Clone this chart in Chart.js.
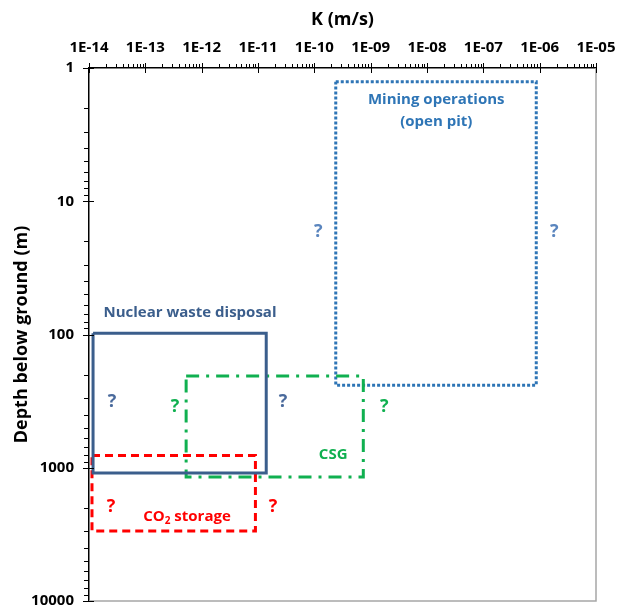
<!DOCTYPE html>
<html>
<head>
<meta charset="utf-8">
<script src="https://cdn.jsdelivr.net/npm/chart.js@4.4.0/dist/chart.umd.min.js"></script>
<style>
  html, body { margin: 0; padding: 0; background: #fff; }
  #wrap { width: 627px; height: 608px; }
</style>
</head>
<body>
<div id="wrap"><canvas id="kChart"></canvas></div>
<script>
// axis ticks
const xTickValues = [1e-14, 1e-13, 1e-12, 1e-11, 1e-10, 1e-9, 1e-8, 1e-7, 1e-6, 1e-5];
const xTickLabels = ['1E-14', '1E-13', '1E-12', '1E-11', '1E-10', '1E-09', '1E-08', '1E-07', '1E-06', '1E-05'];
const yTickValues = [1, 10, 100, 1000, 10000];
const yTickLabels = ['1', '10', '100', '1000', '10000'];

// regions: K range (m/s) and depth range (m)
const regionNames = ['Nuclear waste disposal', 'CO₂ storage', 'CSG', 'Mining operations (open pit)'];
const kMin = [1.18e-14, 1.13e-14, 5.3e-13, 2.4e-10];
const kMax = [1.4e-11, 9e-12, 7.4e-10, 8.7e-7];
const depthTop = [98, 810, 205, 1.27];
const depthBottom = [1095, 2980, 1175, 240];
const regionColors = ['#3b5e8c', '#ff0000', '#10b050', '#2e75b6'];
const regionDash = [[], [8, 5], [13, 7, 3, 7], [3, 2]];

// text annotations (value positions)
const labelText = ['Nuclear waste disposal', 'Mining operations', '(open pit)', 'CSG', 'CO₂ storage'];
const labelK = [6.2e-13, 1.46e-8, 1.46e-8, 2.16e-10, 5.5e-13];
const labelDepth = [69, 1.74, 2.54, 802, 2340];
const labelColors = ['#3b5e8c', '#2e75b6', '#2e75b6', '#10b050', '#ff0000'];

// question marks
const qK = [2.56e-14, 2.79e-11, 3.37e-13, 1.74e-9, 2.46e-14, 1.85e-11, 1.17e-10, 1.82e-6];
const qDepth = [321, 321, 350, 350, 1970, 1970, 17, 17];
const qColors = ['#4a6a9c', '#4a6a9c', '#10b050', '#10b050', '#ff0000', '#ff0000', '#5a85be', '#5a85be'];

const FONT = "'Open Sans', 'DejaVu Sans', sans-serif";

const datasets = regionNames.map((name, i) => ({
    label: name,
    data: [
        { x: kMin[i], y: depthTop[i] },
        { x: kMax[i], y: depthTop[i] },
        { x: kMax[i], y: depthBottom[i] },
        { x: kMin[i], y: depthBottom[i] },
        { x: kMin[i], y: depthTop[i] }
    ],
    showLine: true,
    borderColor: regionColors[i],
    borderWidth: 3,
    borderDash: regionDash[i],
    borderJoinStyle: 'miter',
    pointRadius: 0,
    fill: false,
    tension: 0
}));

// draws text, turning "₂" into a real lowered subscript
function drawLabel(ctx, text, x, y, size) {
    const parts = text.split('₂');
    ctx.font = 'bold ' + size + 'px ' + FONT;
    if (parts.length === 1) {
        ctx.textAlign = 'center';
        ctx.fillText(text, x, y);
        return;
    }
    const sub = Math.round(size * 0.65);
    const w1 = ctx.measureText(parts[0]).width;
    const w3 = ctx.measureText(parts[1]).width;
    ctx.font = 'bold ' + sub + 'px ' + FONT;
    const w2 = ctx.measureText('2').width;
    let cx = x - (w1 + w2 + w3) / 2;
    ctx.textAlign = 'left';
    ctx.font = 'bold ' + size + 'px ' + FONT;
    ctx.fillText(parts[0], cx, y);
    cx += w1;
    ctx.font = 'bold ' + sub + 'px ' + FONT;
    ctx.fillText('2', cx, y + size * 0.3);
    cx += w2;
    ctx.font = 'bold ' + size + 'px ' + FONT;
    ctx.fillText(parts[1], cx, y);
}

const axisPlugin = {
    id: 'axisDecor',
    afterDraw(chart) {
        const ctx = chart.ctx;
        const ca = chart.chartArea;
        const xs = chart.scales.x;
        const ys = chart.scales.y;
        const line = (x1, y1, x2, y2) => {
            ctx.beginPath(); ctx.moveTo(x1, y1); ctx.lineTo(x2, y2); ctx.stroke();
        };
        ctx.save();
        // right and bottom frame
        ctx.strokeStyle = '#a6a6a6';
        ctx.lineWidth = 1.5;
        ctx.beginPath();
        ctx.moveTo(ca.right, ca.top);
        ctx.lineTo(ca.right, ca.bottom);
        ctx.lineTo(ca.left, ca.bottom);
        ctx.stroke();

        ctx.strokeStyle = '#000';
        ctx.lineWidth = 1;
        xTickValues.forEach((v, i) => {
            const px = Math.round(xs.getPixelForValue(v)) + 0.5;
            line(px, ca.top - 5, px, ca.top + 5);
            if (i < xTickValues.length - 1) {
                for (let m = 2; m <= 9; m++) {
                    const mx = Math.round(xs.getPixelForValue(v * m)) + 0.5;
                    line(mx, ca.top - 4, mx, ca.top);
                }
            }
        });
        yTickValues.forEach((v, i) => {
            const py = Math.round(ys.getPixelForValue(v)) + 0.5;
            line(ca.left - 6, py, ca.left + 5, py);
            if (i < yTickValues.length - 1) {
                for (let m = 2; m <= 9; m++) {
                    const my = Math.round(ys.getPixelForValue(v * m)) + 0.5;
                    line(ca.left - 5, my, ca.left, my);
                }
            }
        });

        // annotations
        ctx.textBaseline = 'middle';
        labelText.forEach((t, i) => {
            ctx.fillStyle = labelColors[i];
            drawLabel(ctx, t, xs.getPixelForValue(labelK[i]), ys.getPixelForValue(labelDepth[i]), 15);
        });
        qK.forEach((k, i) => {
            ctx.fillStyle = qColors[i];
            drawLabel(ctx, '?', xs.getPixelForValue(k), ys.getPixelForValue(qDepth[i]), 18);
        });
        ctx.restore();
    }
};

new Chart(document.getElementById('kChart'), {
    type: 'scatter',
    data: { datasets },
    options: {
        responsive: true,
        maintainAspectRatio: false,
        animation: false,
        layout: { padding: { left: 0, top: 0, right: 31, bottom: 7 } },
        plugins: {
            legend: { display: false },
            tooltip: { enabled: false }
        },
        scales: {
            x: {
                type: 'logarithmic',
                position: 'top',
                min: 1e-14,
                max: 1e-5,
                afterBuildTicks: (s) => { s.ticks = xTickValues.map(v => ({ value: v })); },
                afterFit: (s) => { s.height = 68; },
                grid: { display: false, drawTicks: false },
                border: { display: true, color: '#000', width: 1.5 },
                ticks: {
                    autoSkip: false,
                    maxRotation: 0,
                    padding: 11,
                    color: '#000',
                    font: { family: FONT, size: 15, weight: 'bold' },
                    callback: (v, i) => xTickLabels[i]
                },
                title: {
                    display: true,
                    text: 'K (m/s)',
                    color: '#000',
                    font: { family: FONT, size: 18, weight: 'bold' },
                    padding: { top: 9, bottom: 0 }
                }
            },
            y: {
                type: 'logarithmic',
                reverse: true,
                min: 1,
                max: 10000,
                afterBuildTicks: (s) => { s.ticks = yTickValues.map(v => ({ value: v })); },
                afterFit: (s) => { s.width = 89; s.paddingTop = 0; s.paddingBottom = 0; },
                grid: { display: false, drawTicks: false },
                border: { display: true, color: '#000', width: 1.5 },
                ticks: {
                    autoSkip: false,
                    padding: 15,
                    color: '#000',
                    font: { family: FONT, size: 15, weight: 'bold' },
                    callback: (v, i) => yTickLabels[i]
                },
                title: {
                    display: true,
                    text: 'Depth below ground (m)',
                    color: '#000',
                    font: { family: FONT, size: 18, weight: 'bold' },
                    padding: { top: 11, bottom: 0 }
                }
            }
        }
    },
    plugins: [axisPlugin]
});
</script>
</body>
</html>
